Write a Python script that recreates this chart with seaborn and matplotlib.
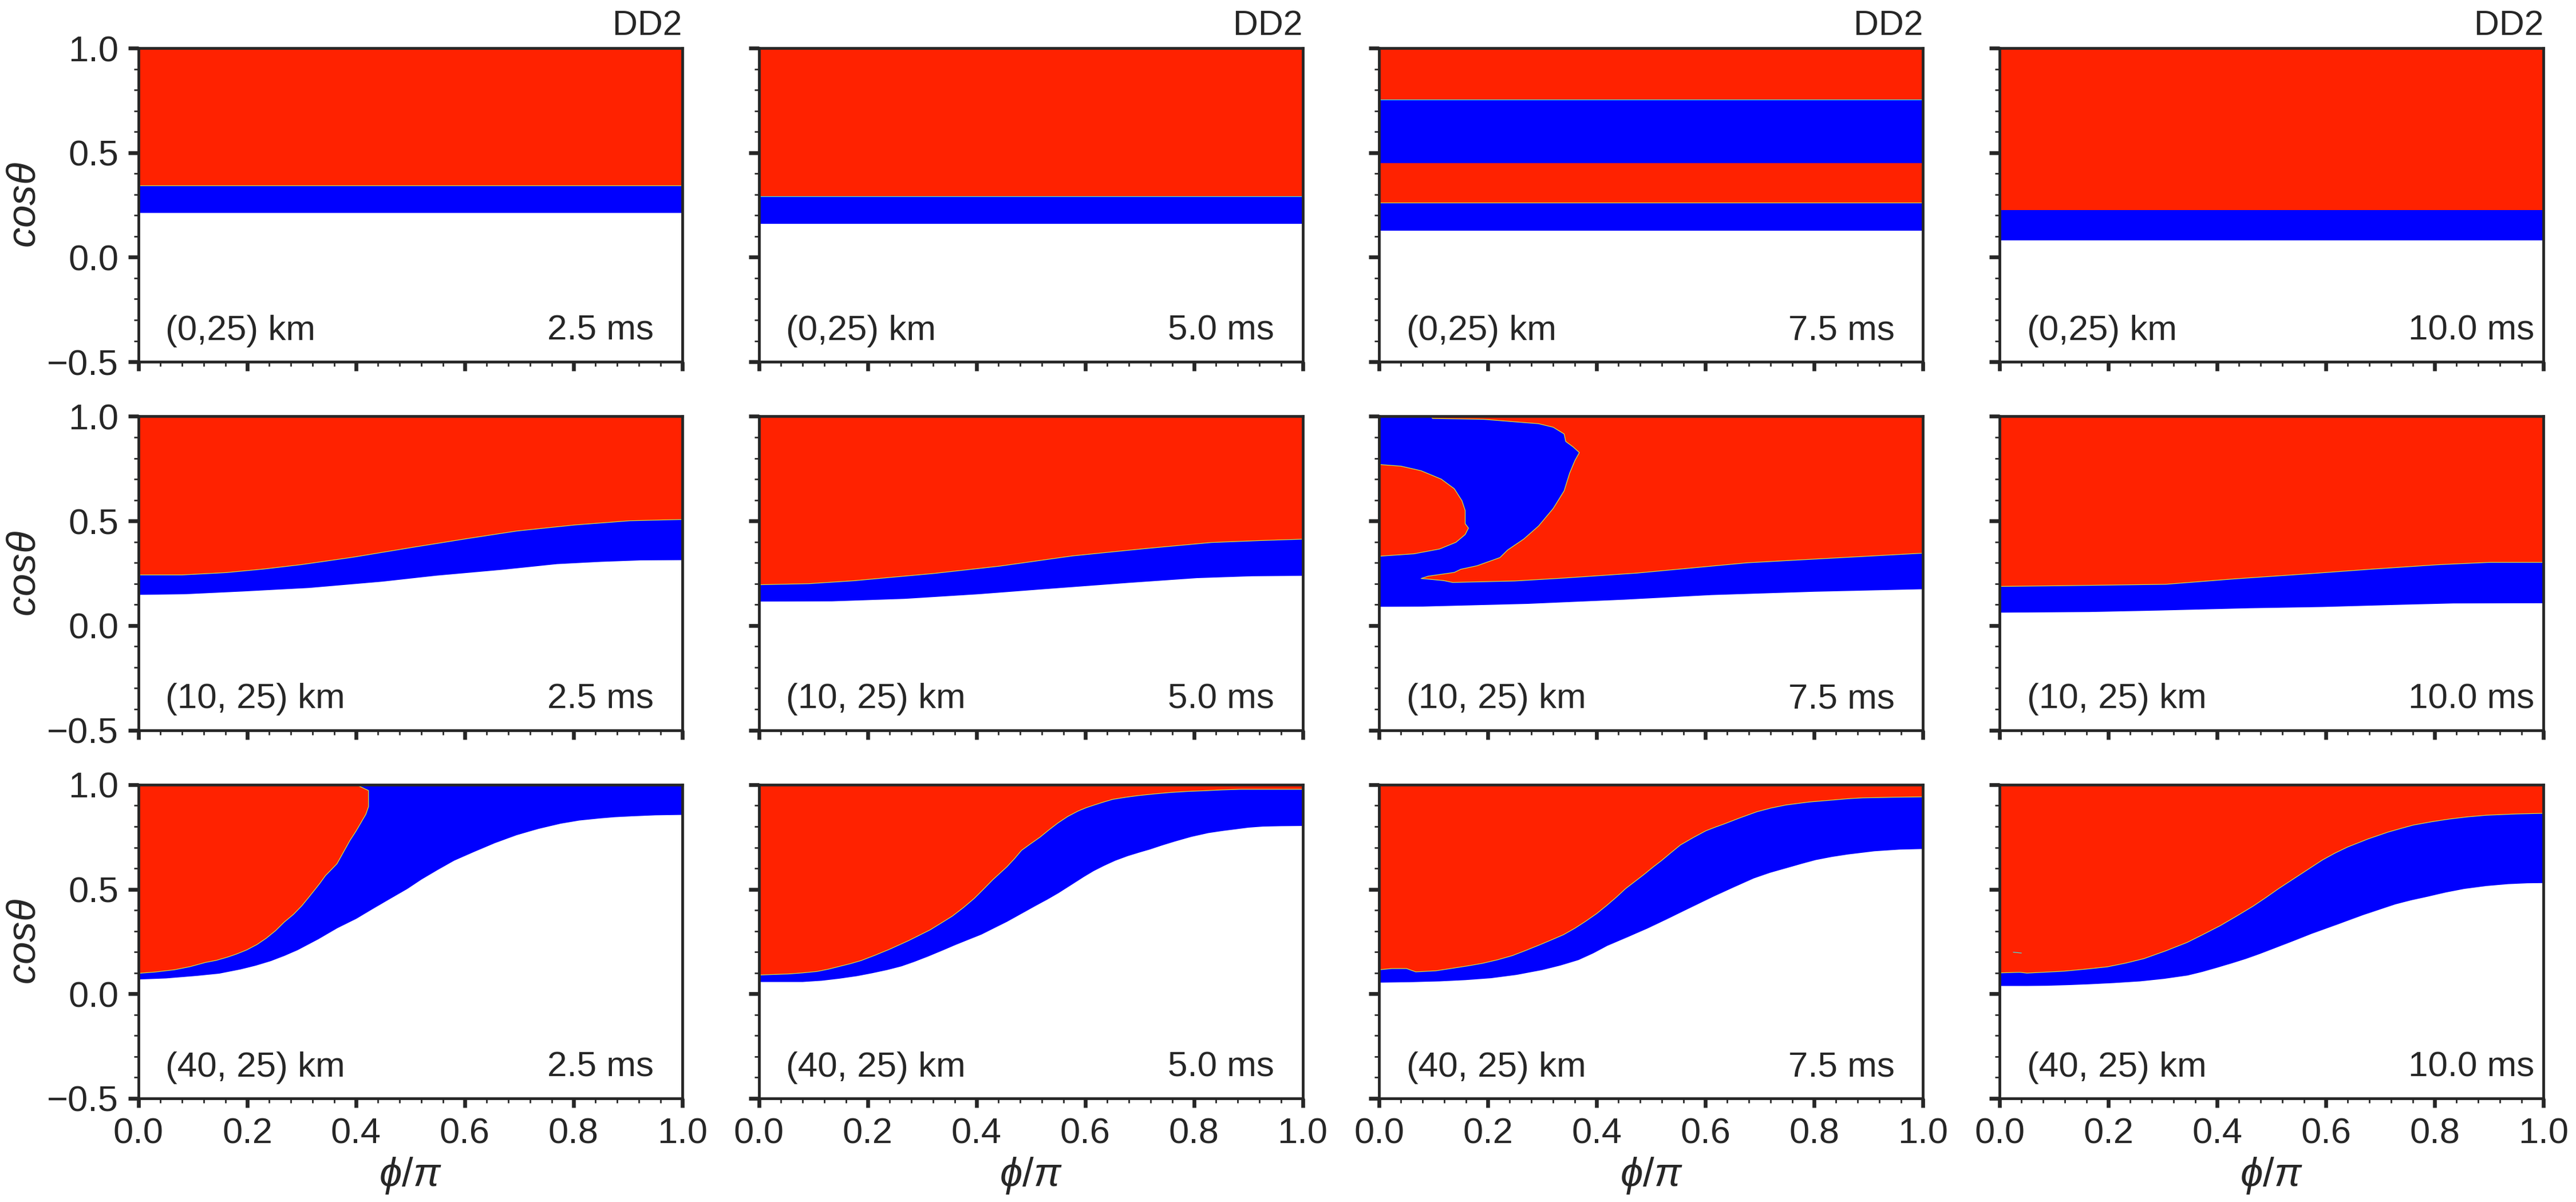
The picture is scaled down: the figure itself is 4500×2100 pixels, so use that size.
import matplotlib
matplotlib.use("Agg")
import matplotlib.pyplot as plt
from matplotlib.ticker import MultipleLocator
import seaborn as sns

# ---------------------------------------------
# DATA
# ---------------------------------------------
row_labels = ["(0,25) km", "(10, 25) km", "(40, 25) km"]
time_labels = ["2.5 ms", "5.0 ms", "7.5 ms", "10.0 ms"]
title_label = "DD2"

flat_phi = [0.0, 1.0]

# row 1 : flat bands, (0,25) km
r1c1_low = [0.213, 0.213]
r1c1_up = [0.343, 0.343]
r1c2_low = [0.16, 0.16]
r1c2_up = [0.29, 0.29]
r1c3_low = [0.127, 0.127]
r1c3_up = [0.26, 0.26]
r1c3_mid_top = [0.45, 0.45]
r1c3_top = [0.755, 0.755]
r1c4_low = [0.08, 0.08]
r1c4_up = [0.225, 0.225]

# row 2 : (10, 25) km
r2c1_low_phi = [0.0, 0.084, 0.19, 0.313, 0.447, 0.548, 0.669, 0.769, 0.85, 0.924, 1.0]
r2c1_low_cos = [0.148, 0.151, 0.164, 0.181, 0.211, 0.24, 0.268, 0.295, 0.306, 0.313, 0.314]
r2c1_up_phi = [0.0, 0.08, 0.161, 0.23, 0.299, 0.393, 0.507, 0.608, 0.696, 0.803, 0.904, 1.0]
r2c1_up_cos = [0.242, 0.242, 0.253, 0.27, 0.291, 0.326, 0.375, 0.417, 0.452, 0.481, 0.501, 0.507]

r2c2_low_phi = [0.0, 0.134, 0.268, 0.403, 0.544, 0.678, 0.805, 0.906, 1.0]
r2c2_low_cos = [0.116, 0.117, 0.129, 0.151, 0.179, 0.205, 0.228, 0.237, 0.239]
r2c2_up_phi = [0.0, 0.091, 0.174, 0.322, 0.443, 0.577, 0.711, 0.832, 0.92, 1.0]
r2c2_up_cos = [0.195, 0.2, 0.214, 0.249, 0.284, 0.333, 0.368, 0.397, 0.406, 0.413]

r2c3_low_phi = [0.0, 0.08, 0.273, 0.45, 0.61, 0.8, 1.0]
r2c3_low_cos = [0.091, 0.092, 0.105, 0.125, 0.147, 0.163, 0.175]
r2c3_main_phi = [1.0, 0.677, 0.475, 0.34, 0.249, 0.135, 0.118, 0.077, 0.09, 0.138,
                 0.15, 0.18, 0.222, 0.236, 0.266, 0.293, 0.32, 0.34, 0.35, 0.36,
                 0.368, 0.357, 0.343, 0.34, 0.32, 0.293, 0.259, 0.192, 0.098, 0.095]
r2c3_main_cos = [0.346, 0.30, 0.251, 0.227, 0.213, 0.206, 0.215, 0.225, 0.236, 0.254,
                 0.269, 0.286, 0.325, 0.361, 0.414, 0.476, 0.56, 0.644, 0.728, 0.79,
                 0.827, 0.853, 0.88, 0.916, 0.948, 0.965, 0.972, 0.986, 0.99, 1.0]
r2c3_lobe_phi = [0.0, 0.04, 0.077, 0.114, 0.138, 0.152, 0.158, 0.158, 0.164, 0.158,
                 0.141, 0.111, 0.064, 0.003, 0.0]
r2c3_lobe_cos = [0.77, 0.762, 0.74, 0.70, 0.654, 0.597, 0.55, 0.487, 0.466, 0.435,
                 0.398, 0.366, 0.343, 0.332, 0.33]

r2c4_low_phi = [0.0, 0.164, 0.292, 0.459, 0.593, 0.741, 0.834, 1.0]
r2c4_low_cos = [0.063, 0.066, 0.073, 0.084, 0.09, 0.101, 0.107, 0.108]
r2c4_up_phi = [0.0, 0.104, 0.305, 0.432, 0.566, 0.687, 0.808, 0.901, 1.0]
r2c4_up_cos = [0.187, 0.19, 0.197, 0.223, 0.247, 0.27, 0.291, 0.302, 0.302]

# row 3 : (40, 25) km
r3c1_low_phi = [0.0, 0.05, 0.106, 0.148, 0.187, 0.215, 0.243, 0.268, 0.292, 0.33,
                0.365, 0.40, 0.429, 0.46, 0.494, 0.52, 0.55, 0.58, 0.615, 0.655,
                0.695, 0.735, 0.776, 0.81, 0.848, 0.875, 0.905, 0.95, 1.0]
r3c1_low_cos = [0.07, 0.075, 0.087, 0.098, 0.118, 0.136, 0.158, 0.183, 0.21, 0.262,
                0.315, 0.36, 0.405, 0.452, 0.503, 0.548, 0.594, 0.638, 0.678, 0.722,
                0.76, 0.79, 0.815, 0.83, 0.84, 0.846, 0.85, 0.855, 0.857]
r3c1_up_phi = [0.0, 0.03, 0.066, 0.095, 0.123, 0.143, 0.163, 0.18, 0.199, 0.218,
               0.235, 0.252, 0.268, 0.285, 0.30, 0.312, 0.324, 0.334, 0.344, 0.355,
               0.365, 0.377, 0.389, 0.40, 0.409, 0.418, 0.423, 0.423, 0.40]
r3c1_up_cos = [0.098, 0.104, 0.115, 0.13, 0.15, 0.16, 0.175, 0.19, 0.21, 0.236,
               0.266, 0.302, 0.343, 0.38, 0.42, 0.458, 0.497, 0.53, 0.566, 0.595,
               0.622, 0.678, 0.734, 0.778, 0.818, 0.858, 0.895, 0.972, 1.0]

r3c2_low_phi = [0.0, 0.04, 0.08, 0.115, 0.148, 0.18, 0.208, 0.235, 0.262, 0.285,
                0.309, 0.335, 0.362, 0.385, 0.409, 0.432, 0.456, 0.483, 0.51, 0.53,
                0.55, 0.573, 0.597, 0.615, 0.634, 0.655, 0.678, 0.698, 0.718, 0.74,
                0.765, 0.795, 0.826, 0.852, 0.879, 0.9, 0.926, 0.96, 1.0]
r3c2_low_cos = [0.058, 0.058, 0.058, 0.064, 0.074, 0.086, 0.10, 0.115, 0.133, 0.154,
                0.178, 0.206, 0.236, 0.26, 0.285, 0.315, 0.346, 0.385, 0.424, 0.452,
                0.482, 0.52, 0.56, 0.588, 0.613, 0.638, 0.66, 0.676, 0.691, 0.71,
                0.73, 0.752, 0.77, 0.78, 0.789, 0.796, 0.801, 0.803, 0.804]
r3c2_up_phi = [0.0, 0.054, 0.08, 0.107, 0.128, 0.148, 0.168, 0.188, 0.215, 0.242,
               0.258, 0.275, 0.295, 0.315, 0.335, 0.356, 0.376, 0.396, 0.413, 0.43,
               0.443, 0.456, 0.47, 0.483, 0.5, 0.517, 0.533, 0.55, 0.568, 0.587,
               0.602, 0.617, 0.634, 0.651, 0.675, 0.698, 0.728, 0.758, 0.79, 0.819,
               0.85, 0.886, 1.0]
r3c2_up_cos = [0.09, 0.095, 0.10, 0.107, 0.118, 0.131, 0.144, 0.159, 0.186, 0.215,
               0.234, 0.254, 0.28, 0.306, 0.338, 0.372, 0.412, 0.456, 0.50, 0.545,
               0.576, 0.607, 0.646, 0.686, 0.718, 0.749, 0.783, 0.817, 0.848, 0.874,
               0.89, 0.903, 0.917, 0.93, 0.94, 0.948, 0.956, 0.963, 0.968, 0.971,
               0.975, 0.978, 0.978]

r3c3_low_phi = [0.0, 0.055, 0.111, 0.158, 0.205, 0.252, 0.299, 0.333, 0.366, 0.393,
                0.419, 0.456, 0.493, 0.527, 0.56, 0.587, 0.614, 0.651, 0.688, 0.718,
                0.748, 0.775, 0.802, 0.832, 0.862, 0.91, 0.956, 1.0]
r3c3_low_cos = [0.055, 0.057, 0.061, 0.067, 0.076, 0.092, 0.115, 0.137, 0.163, 0.195,
                0.231, 0.272, 0.314, 0.356, 0.398, 0.432, 0.466, 0.51, 0.553, 0.58,
                0.602, 0.622, 0.641, 0.656, 0.668, 0.683, 0.691, 0.694]
r3c3_up_phi = [0.0, 0.023, 0.05, 0.067, 0.104, 0.164, 0.19, 0.218, 0.245, 0.268,
               0.292, 0.315, 0.339, 0.36, 0.379, 0.40, 0.419, 0.436, 0.453, 0.47,
               0.487, 0.503, 0.52, 0.537, 0.554, 0.578, 0.601, 0.618, 0.634, 0.665,
               0.695, 0.72, 0.748, 0.79, 0.836, 0.862, 0.889, 0.945, 1.0]
r3c3_up_cos = [0.115, 0.121, 0.121, 0.105, 0.11, 0.134, 0.146, 0.163, 0.183, 0.206,
               0.231, 0.256, 0.283, 0.314, 0.346, 0.384, 0.424, 0.462, 0.503, 0.537,
               0.571, 0.605, 0.639, 0.676, 0.712, 0.748, 0.78, 0.797, 0.812, 0.843,
               0.871, 0.888, 0.903, 0.917, 0.927, 0.933, 0.937, 0.94, 0.942]

r3c4_low_phi = [0.0, 0.05, 0.087, 0.125, 0.164, 0.21, 0.258, 0.302, 0.345, 0.372,
                0.399, 0.425, 0.452, 0.479, 0.506, 0.54, 0.573, 0.62, 0.667, 0.697,
                0.727, 0.757, 0.787, 0.82, 0.854, 0.895, 0.935, 0.97, 1.0]
r3c4_low_cos = [0.039, 0.039, 0.04, 0.043, 0.047, 0.053, 0.061, 0.073, 0.089, 0.106,
                0.126, 0.146, 0.168, 0.193, 0.22, 0.254, 0.288, 0.332, 0.377, 0.403,
                0.429, 0.449, 0.466, 0.486, 0.503, 0.517, 0.526, 0.53, 0.531]
r3c4_up_phi = [0.0, 0.037, 0.05, 0.117, 0.158, 0.198, 0.232, 0.265, 0.305, 0.345,
               0.375, 0.405, 0.436, 0.466, 0.49, 0.513, 0.533, 0.553, 0.573, 0.593,
               0.616, 0.64, 0.677, 0.714, 0.737, 0.761, 0.795, 0.828, 0.86, 0.895,
               0.95, 1.0]
r3c4_up_cos = [0.10, 0.103, 0.099, 0.108, 0.118, 0.129, 0.147, 0.168, 0.205, 0.246,
               0.285, 0.325, 0.372, 0.419, 0.461, 0.503, 0.537, 0.571, 0.605, 0.639,
               0.672, 0.702, 0.74, 0.773, 0.79, 0.807, 0.823, 0.836, 0.846, 0.854,
               0.86, 0.863]
r3c4_speck_phi = [0.025, 0.04]
r3c4_speck_cos = [0.199, 0.195]

# ---------------------------------------------
# STYLE
# ---------------------------------------------
RED = "#FF2200"
BLUE = "#0000FF"
EDGE = "#C8E84A"
CYAN = "#40E8E0"
DARK = ".15"

sns.set_theme(style="ticks", rc={
    "axes.linewidth": 1.15,
    "axes.edgecolor": DARK,
    "xtick.major.size": 3.8, "xtick.major.width": 1.6,
    "ytick.major.size": 4.4, "ytick.major.width": 1.6,
    "xtick.minor.size": 2.0, "xtick.minor.width": 0.65,
    "ytick.minor.size": 2.0, "ytick.minor.width": 0.65,
    "xtick.major.pad": 4.0, "ytick.major.pad": 4.0,
    "xtick.labelsize": 15.2, "ytick.labelsize": 15.2,
})
plt.rcParams["font.family"] = ["Liberation Sans", "DejaVu Sans"]
plt.rcParams["mathtext.fontset"] = "custom"
plt.rcParams["mathtext.rm"] = "Liberation Sans"
plt.rcParams["mathtext.it"] = "Liberation Sans:italic"


def top_closed(phi, cos):
    # close an outline against the top edge of the panel
    return list(phi) + [phi[-1], phi[0]], list(cos) + [1.0, 1.0]


# each panel: lower edge of the blue zone, red zones, red/blue edges
panels = [
    [
        ((flat_phi, r1c1_low), [top_closed(flat_phi, r1c1_up)], [(flat_phi, r1c1_up, EDGE)]),
        ((flat_phi, r1c2_low), [top_closed(flat_phi, r1c2_up)], [(flat_phi, r1c2_up, CYAN)]),
        ((flat_phi, r1c3_low),
         [top_closed(flat_phi, r1c3_top),
          (flat_phi + flat_phi[::-1], r1c3_up + r1c3_mid_top)],
         [(flat_phi, r1c3_top, CYAN), (flat_phi, r1c3_up, EDGE)]),
        ((flat_phi, r1c4_low), [top_closed(flat_phi, r1c4_up)], []),
    ],
    [
        ((r2c1_low_phi, r2c1_low_cos), [top_closed(r2c1_up_phi, r2c1_up_cos)],
         [(r2c1_up_phi, r2c1_up_cos, EDGE)]),
        ((r2c2_low_phi, r2c2_low_cos), [top_closed(r2c2_up_phi, r2c2_up_cos)],
         [(r2c2_up_phi, r2c2_up_cos, EDGE)]),
        ((r2c3_low_phi, r2c3_low_cos),
         [top_closed(r2c3_main_phi, r2c3_main_cos), (r2c3_lobe_phi, r2c3_lobe_cos)],
         [(r2c3_main_phi, r2c3_main_cos, EDGE), (r2c3_lobe_phi, r2c3_lobe_cos, EDGE)]),
        ((r2c4_low_phi, r2c4_low_cos), [top_closed(r2c4_up_phi, r2c4_up_cos)],
         [(r2c4_up_phi, r2c4_up_cos, EDGE)]),
    ],
    [
        ((r3c1_low_phi, r3c1_low_cos), [top_closed(r3c1_up_phi, r3c1_up_cos)],
         [(r3c1_up_phi, r3c1_up_cos, EDGE)]),
        ((r3c2_low_phi, r3c2_low_cos), [top_closed(r3c2_up_phi, r3c2_up_cos)],
         [(r3c2_up_phi, r3c2_up_cos, EDGE)]),
        ((r3c3_low_phi, r3c3_low_cos), [top_closed(r3c3_up_phi, r3c3_up_cos)],
         [(r3c3_up_phi, r3c3_up_cos, EDGE)]),
        ((r3c4_low_phi, r3c4_low_cos), [top_closed(r3c4_up_phi, r3c4_up_cos)],
         [(r3c4_up_phi, r3c4_up_cos, EDGE), (r3c4_speck_phi, r3c4_speck_cos, CYAN)]),
    ],
]

# ---------------------------------------------
# FIGURE
# ---------------------------------------------
fig, axes = plt.subplots(3, 4, figsize=(15, 7), dpi=300, sharex=True, sharey=True)
fig.subplots_adjust(left=242 / 4500, right=4443 / 4500,
                    top=1 - 84 / 2100, bottom=1 - 1919 / 2100,
                    wspace=0.141, hspace=0.174)

for i, row in enumerate(panels):
    for j, (lower, reds, edges) in enumerate(row):
        ax = axes[i, j]
        ax.fill_between(lower[0], lower[1], 1.0, color=BLUE, lw=0)
        for phi, cos in reds:
            ax.fill(phi, cos, color=RED, lw=0)
        for phi, cos, col in edges:
            sns.lineplot(x=phi, y=cos, sort=False, estimator=None, color=col,
                         lw=0.3, ax=ax, legend=False)

        ax.set_xlim(0, 1)
        ax.set_ylim(-0.5, 1.0)
        ax.xaxis.set_major_locator(MultipleLocator(0.2))
        ax.xaxis.set_minor_locator(MultipleLocator(0.04))
        ax.yaxis.set_major_locator(MultipleLocator(0.5))
        ax.yaxis.set_minor_locator(MultipleLocator(0.1))
        ax.tick_params(which="both", direction="out", color=DARK, labelcolor=DARK)

        ax.text(0.05, -0.395, row_labels[i], fontsize=14.9, color=DARK,
                transform=ax.get_yaxis_transform())
        ax.text(0.752, -0.395, time_labels[j], fontsize=14.9, color=DARK,
                transform=ax.get_yaxis_transform())

        if i == 0:
            ax.set_title(title_label, loc="right", fontsize=14.6, pad=5.5, color=DARK)
        if j == 0:
            ax.set_ylabel(r"$cos\theta$", fontsize=17, color=DARK)
            ax.yaxis.set_label_coords(-0.174, 0.5)
        if i == 2:
            ax.set_xlabel(r"$\phi/\pi$", fontsize=17, color=DARK, labelpad=2)

fig.savefig("out.png", dpi=300)
